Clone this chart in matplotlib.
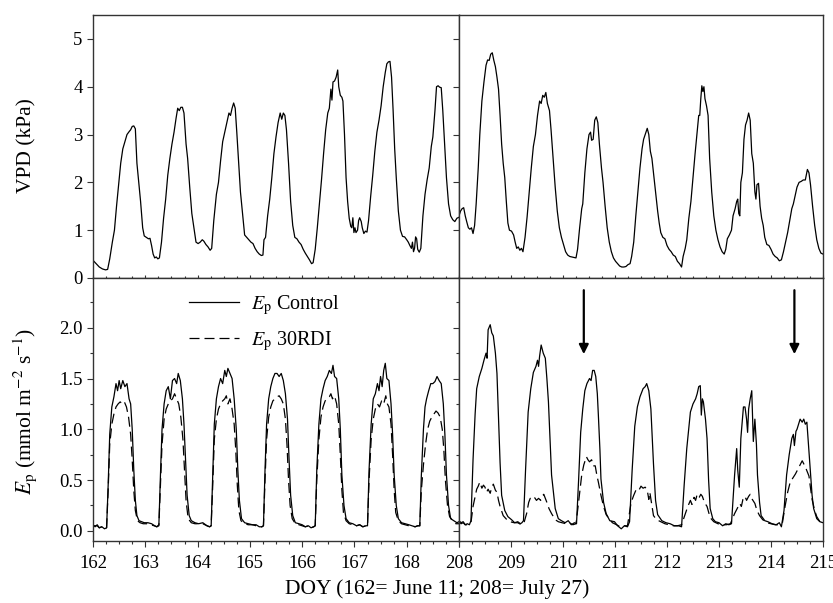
import numpy as np
import matplotlib
matplotlib.use('Agg')
import matplotlib.pyplot as plt
from matplotlib.ticker import MultipleLocator, FixedLocator, NullFormatter

plt.rcParams['font.family'] = ['Liberation Serif', 'DejaVu Serif']
plt.rcParams['mathtext.fontset'] = 'stix'

# VPD (kPa), DOY 162-169
vpd_a = np.array([
    (162.00, 0.37), (162.06, 0.30), (162.12, 0.23), (162.18, 0.19), (162.24, 0.17), (162.28, 0.18),
    (162.32, 0.40), (162.37, 0.75), (162.41, 1.00), (162.45, 1.50), (162.49, 1.95), (162.53, 2.40),
    (162.57, 2.70), (162.61, 2.85), (162.65, 3.00), (162.69, 3.06), (162.72, 3.10), (162.75, 3.17),
    (162.78, 3.18), (162.81, 3.12), (162.84, 2.40), (162.87, 2.05), (162.91, 1.60), (162.95, 1.05),
    (162.98, 0.88), (163.02, 0.85), (163.06, 0.82), (163.09, 0.83), (163.12, 0.68), (163.15, 0.50),
    (163.18, 0.42), (163.21, 0.44), (163.24, 0.40), (163.27, 0.42), (163.31, 0.75), (163.35, 1.25),
    (163.39, 1.65), (163.43, 2.15), (163.47, 2.50), (163.51, 2.80), (163.55, 3.05), (163.59, 3.35),
    (163.62, 3.55), (163.65, 3.50), (163.68, 3.57), (163.71, 3.57), (163.74, 3.45), (163.78, 2.80),
    (163.81, 2.50), (163.85, 1.90), (163.89, 1.35), (163.93, 1.05), (163.97, 0.75), (164.01, 0.72),
    (164.05, 0.75), (164.09, 0.80), (164.12, 0.77), (164.16, 0.70), (164.20, 0.65), (164.24, 0.58),
    (164.27, 0.62), (164.31, 1.20), (164.36, 1.75), (164.40, 2.00), (164.44, 2.45), (164.48, 2.85),
    (164.52, 3.05), (164.56, 3.25), (164.60, 3.45), (164.63, 3.40), (164.66, 3.55), (164.69, 3.66),
    (164.72, 3.55), (164.75, 3.05), (164.78, 2.50), (164.82, 1.80), (164.86, 1.35), (164.90, 0.90),
    (164.94, 0.85), (164.98, 0.80), (165.02, 0.75), (165.06, 0.72), (165.10, 0.62), (165.14, 0.55),
    (165.18, 0.50), (165.22, 0.47), (165.25, 0.48), (165.27, 0.80), (165.30, 0.85), (165.34, 1.30),
    (165.38, 1.65), (165.42, 2.10), (165.46, 2.60), (165.50, 2.95), (165.54, 3.25), (165.58, 3.45),
    (165.61, 3.32), (165.64, 3.45), (165.67, 3.40), (165.70, 3.10), (165.74, 2.40), (165.78, 1.60),
    (165.82, 1.10), (165.86, 0.85), (165.90, 0.82), (165.94, 0.75), (165.98, 0.70), (166.02, 0.60),
    (166.06, 0.52), (166.10, 0.45), (166.14, 0.38), (166.18, 0.30), (166.21, 0.32), (166.25, 0.60),
    (166.29, 1.05), (166.33, 1.55), (166.37, 2.05), (166.41, 2.60), (166.45, 3.10), (166.49, 3.45),
    (166.52, 3.55), (166.55, 3.95), (166.57, 3.72), (166.59, 4.10), (166.62, 4.12), (166.65, 4.20),
    (166.68, 4.35), (166.70, 4.00), (166.73, 3.82), (166.76, 3.78), (166.78, 3.70), (166.81, 3.00),
    (166.84, 2.10), (166.87, 1.60), (166.90, 1.25), (166.93, 1.08), (166.95, 1.05), (166.97, 1.26),
    (166.99, 0.95), (167.01, 1.05), (167.03, 0.95), (167.06, 1.00), (167.08, 1.20), (167.10, 1.26),
    (167.13, 1.18), (167.15, 1.05), (167.18, 0.93), (167.21, 0.98), (167.24, 0.96), (167.27, 1.20),
    (167.31, 1.70), (167.35, 2.15), (167.39, 2.65), (167.43, 3.05), (167.47, 3.30), (167.51, 3.60),
    (167.55, 4.00), (167.59, 4.30), (167.62, 4.48), (167.65, 4.52), (167.68, 4.53), (167.71, 4.20),
    (167.74, 3.50), (167.77, 2.70), (167.80, 2.10), (167.84, 1.40), (167.88, 1.00), (167.92, 0.87),
    (167.96, 0.86), (168.00, 0.80), (168.03, 0.75), (168.06, 0.68), (168.09, 0.62), (168.11, 0.75),
    (168.13, 0.55), (168.15, 0.62), (168.17, 0.86), (168.19, 0.82), (168.21, 0.60), (168.24, 0.54),
    (168.27, 0.62), (168.31, 1.30), (168.35, 1.75), (168.39, 2.05), (168.43, 2.30), (168.47, 2.75),
    (168.50, 2.95), (168.54, 3.50), (168.57, 4.00), (168.60, 4.02), (168.63, 3.99), (168.66, 3.98),
    (168.69, 3.50), (168.72, 2.90), (168.76, 2.10), (168.80, 1.55), (168.84, 1.30), (168.88, 1.22),
    (168.92, 1.18), (168.96, 1.25), (169.00, 1.27)])

# VPD (kPa), DOY 208-215
vpd_b = np.array([
    (208.00, 1.30), (208.03, 1.40), (208.06, 1.45), (208.09, 1.47), (208.12, 1.30), (208.15, 1.17),
    (208.18, 1.05), (208.21, 1.02), (208.24, 1.05), (208.27, 0.93), (208.30, 1.10), (208.33, 1.55),
    (208.37, 2.30), (208.40, 3.00), (208.44, 3.70), (208.48, 4.10), (208.52, 4.45), (208.55, 4.56),
    (208.58, 4.55), (208.61, 4.68), (208.64, 4.71), (208.67, 4.55), (208.70, 4.42), (208.73, 4.20),
    (208.76, 3.95), (208.79, 3.40), (208.82, 2.80), (208.85, 2.40), (208.88, 2.10), (208.91, 1.60),
    (208.94, 1.15), (208.97, 1.00), (209.01, 0.98), (209.05, 0.90), (209.08, 0.75), (209.11, 0.62),
    (209.14, 0.65), (209.17, 0.58), (209.20, 0.62), (209.23, 0.55), (209.27, 0.85), (209.31, 1.28),
    (209.35, 1.80), (209.39, 2.30), (209.43, 2.75), (209.47, 3.00), (209.51, 3.40), (209.55, 3.70),
    (209.58, 3.65), (209.61, 3.82), (209.64, 3.78), (209.67, 3.88), (209.70, 3.65), (209.74, 3.50),
    (209.77, 3.10), (209.81, 2.50), (209.85, 1.90), (209.89, 1.40), (209.93, 1.05), (209.97, 0.85),
    (210.01, 0.70), (210.05, 0.55), (210.09, 0.48), (210.13, 0.45), (210.17, 0.44), (210.21, 0.43),
    (210.25, 0.42), (210.28, 0.60), (210.32, 1.05), (210.36, 1.45), (210.38, 1.55), (210.42, 2.20),
    (210.46, 2.70), (210.50, 3.00), (210.53, 3.05), (210.55, 2.88), (210.58, 2.90), (210.61, 3.30),
    (210.64, 3.37), (210.67, 3.25), (210.70, 2.80), (210.74, 2.30), (210.77, 2.00), (210.81, 1.50),
    (210.85, 1.05), (210.89, 0.75), (210.93, 0.55), (210.97, 0.42), (211.01, 0.35), (211.05, 0.30),
    (211.09, 0.25), (211.13, 0.23), (211.17, 0.23), (211.21, 0.24), (211.25, 0.28), (211.29, 0.30),
    (211.32, 0.45), (211.36, 0.75), (211.40, 1.30), (211.44, 1.80), (211.48, 2.30), (211.52, 2.70),
    (211.55, 2.90), (211.58, 3.00), (211.62, 3.13), (211.65, 3.00), (211.68, 2.65), (211.71, 2.50),
    (211.75, 2.10), (211.79, 1.70), (211.82, 1.40), (211.85, 1.15), (211.88, 0.95), (211.92, 0.85),
    (211.96, 0.82), (212.00, 0.68), (212.04, 0.60), (212.08, 0.55), (212.12, 0.48), (212.16, 0.45),
    (212.20, 0.35), (212.24, 0.30), (212.28, 0.23), (212.31, 0.45), (212.35, 0.62), (212.38, 0.80),
    (212.42, 1.25), (212.46, 1.60), (212.50, 2.10), (212.54, 2.60), (212.58, 3.05), (212.61, 3.40),
    (212.63, 3.40), (212.65, 3.75), (212.67, 4.02), (212.69, 3.90), (212.71, 4.00), (212.73, 3.75),
    (212.76, 3.60), (212.79, 3.40), (212.82, 2.50), (212.86, 1.80), (212.90, 1.30), (212.94, 1.00),
    (212.98, 0.80), (213.02, 0.65), (213.06, 0.55), (213.10, 0.50), (213.13, 0.60), (213.16, 0.82),
    (213.20, 0.90), (213.24, 1.00), (213.27, 1.30), (213.31, 1.45), (213.34, 1.60), (213.36, 1.65),
    (213.38, 1.35), (213.40, 1.30), (213.42, 2.00), (213.45, 2.20), (213.48, 2.90), (213.51, 3.20),
    (213.54, 3.30), (213.57, 3.45), (213.60, 3.30), (213.63, 2.60), (213.66, 2.40), (213.69, 1.80),
    (213.71, 1.65), (213.73, 1.95), (213.76, 1.98), (213.79, 1.50), (213.82, 1.25), (213.85, 1.10),
    (213.88, 0.85), (213.92, 0.70), (213.96, 0.68), (214.00, 0.60), (214.04, 0.50), (214.08, 0.45),
    (214.12, 0.42), (214.16, 0.36), (214.20, 0.38), (214.24, 0.55), (214.28, 0.75), (214.32, 0.95),
    (214.36, 1.20), (214.40, 1.45), (214.43, 1.55), (214.46, 1.70), (214.50, 1.90), (214.54, 2.00),
    (214.58, 2.02), (214.62, 2.05), (214.66, 2.05), (214.70, 2.27), (214.73, 2.20), (214.76, 1.95),
    (214.80, 1.50), (214.84, 1.10), (214.88, 0.80), (214.92, 0.62), (214.96, 0.52), (215.00, 0.50)])

# Ep control (mmol m-2 s-1), DOY 162-169
ep_ctrl_a = np.array([
    (162.00, 0.06), (162.04, 0.04), (162.08, 0.06), (162.12, 0.03), (162.17, 0.04), (162.22, 0.02),
    (162.26, 0.03), (162.29, 0.45), (162.32, 0.95), (162.36, 1.22), (162.40, 1.32), (162.44, 1.45),
    (162.47, 1.38), (162.50, 1.48), (162.53, 1.40), (162.57, 1.48), (162.61, 1.42), (162.65, 1.45),
    (162.69, 1.30), (162.72, 1.25), (162.75, 1.00), (162.78, 0.60), (162.81, 0.30), (162.84, 0.15),
    (162.88, 0.10), (162.93, 0.09), (162.98, 0.08), (163.05, 0.08), (163.12, 0.07), (163.18, 0.05),
    (163.22, 0.04), (163.26, 0.06), (163.29, 0.55), (163.32, 1.00), (163.36, 1.25), (163.40, 1.38),
    (163.44, 1.42), (163.48, 1.30), (163.52, 1.48), (163.56, 1.50), (163.60, 1.45), (163.63, 1.55),
    (163.67, 1.48), (163.71, 1.30), (163.74, 1.05), (163.77, 0.70), (163.80, 0.35), (163.84, 0.15),
    (163.88, 0.10), (163.95, 0.08), (164.02, 0.07), (164.10, 0.08), (164.18, 0.05), (164.23, 0.04),
    (164.26, 0.05), (164.29, 0.55), (164.32, 1.05), (164.36, 1.30), (164.40, 1.42), (164.44, 1.50),
    (164.48, 1.45), (164.52, 1.58), (164.55, 1.52), (164.58, 1.60), (164.62, 1.55), (164.66, 1.50),
    (164.70, 1.30), (164.74, 1.00), (164.77, 0.60), (164.80, 0.30), (164.84, 0.12), (164.90, 0.08),
    (164.97, 0.07), (165.05, 0.06), (165.12, 0.06), (165.18, 0.04), (165.23, 0.04), (165.26, 0.05),
    (165.29, 0.60), (165.32, 1.05), (165.36, 1.30), (165.40, 1.42), (165.44, 1.50), (165.48, 1.55),
    (165.52, 1.55), (165.56, 1.52), (165.60, 1.55), (165.64, 1.48), (165.68, 1.35), (165.72, 1.10),
    (165.75, 0.70), (165.78, 0.35), (165.82, 0.15), (165.87, 0.08), (165.94, 0.07), (166.00, 0.06),
    (166.06, 0.04), (166.12, 0.05), (166.17, 0.03), (166.22, 0.04), (166.25, 0.05), (166.28, 0.60),
    (166.32, 1.05), (166.36, 1.30), (166.40, 1.40), (166.44, 1.48), (166.48, 1.52), (166.52, 1.58),
    (166.56, 1.55), (166.59, 1.63), (166.62, 1.52), (166.66, 1.50), (166.70, 1.30), (166.73, 1.00),
    (166.76, 0.55), (166.80, 0.25), (166.84, 0.12), (166.90, 0.08), (166.97, 0.07), (167.04, 0.05),
    (167.10, 0.06), (167.16, 0.04), (167.22, 0.05), (167.25, 0.05), (167.28, 0.60), (167.32, 1.05),
    (167.36, 1.30), (167.40, 1.35), (167.44, 1.45), (167.47, 1.38), (167.50, 1.52), (167.53, 1.42),
    (167.56, 1.58), (167.59, 1.65), (167.62, 1.50), (167.66, 1.48), (167.70, 1.25), (167.73, 0.95),
    (167.76, 0.55), (167.80, 0.25), (167.84, 0.12), (167.90, 0.08), (167.97, 0.07), (168.04, 0.06),
    (168.10, 0.05), (168.16, 0.04), (168.21, 0.05), (168.25, 0.05), (168.28, 0.55), (168.32, 1.00),
    (168.35, 1.22), (168.38, 1.30), (168.42, 1.38), (168.46, 1.45), (168.50, 1.45), (168.54, 1.47),
    (168.58, 1.52), (168.62, 1.48), (168.66, 1.45), (168.70, 1.25), (168.73, 0.95), (168.76, 0.55),
    (168.80, 0.25), (168.84, 0.12), (168.90, 0.10), (168.96, 0.08), (169.00, 0.09)])

# Ep 30RDI, DOY 162-169
ep_rdi_a = np.array([
    (162.00, 0.05), (162.04, 0.05), (162.08, 0.05), (162.12, 0.03), (162.17, 0.04), (162.22, 0.02),
    (162.26, 0.03), (162.29, 0.40), (162.32, 0.85), (162.36, 1.05), (162.40, 1.15), (162.44, 1.22),
    (162.48, 1.25), (162.52, 1.27), (162.56, 1.25), (162.60, 1.27), (162.64, 1.22), (162.68, 1.12),
    (162.72, 0.95), (162.75, 0.70), (162.78, 0.40), (162.81, 0.20), (162.85, 0.10), (162.90, 0.08),
    (162.96, 0.07), (163.03, 0.07), (163.10, 0.06), (163.17, 0.05), (163.22, 0.04), (163.26, 0.05),
    (163.29, 0.45), (163.32, 0.85), (163.36, 1.10), (163.40, 1.20), (163.44, 1.25), (163.48, 1.28),
    (163.52, 1.30), (163.56, 1.35), (163.60, 1.30), (163.64, 1.25), (163.68, 1.12), (163.72, 0.90),
    (163.75, 0.60), (163.78, 0.30), (163.82, 0.12), (163.88, 0.08), (163.95, 0.07), (164.02, 0.07),
    (164.10, 0.07), (164.18, 0.05), (164.23, 0.04), (164.26, 0.05), (164.29, 0.45), (164.32, 0.90),
    (164.36, 1.10), (164.40, 1.20), (164.44, 1.25), (164.48, 1.28), (164.52, 1.30), (164.55, 1.33),
    (164.58, 1.25), (164.62, 1.30), (164.66, 1.20), (164.70, 1.05), (164.73, 0.80), (164.76, 0.45),
    (164.79, 0.20), (164.83, 0.10), (164.90, 0.07), (164.97, 0.06), (165.05, 0.06), (165.12, 0.05),
    (165.18, 0.04), (165.23, 0.04), (165.26, 0.05), (165.29, 0.50), (165.32, 0.90), (165.36, 1.12),
    (165.40, 1.22), (165.44, 1.28), (165.48, 1.30), (165.52, 1.32), (165.56, 1.33), (165.60, 1.30),
    (165.64, 1.25), (165.68, 1.10), (165.71, 0.85), (165.74, 0.50), (165.77, 0.25), (165.81, 0.12),
    (165.87, 0.07), (165.94, 0.06), (166.00, 0.05), (166.06, 0.04), (166.12, 0.05), (166.17, 0.03),
    (166.22, 0.04), (166.25, 0.05), (166.28, 0.50), (166.32, 0.90), (166.36, 1.12), (166.40, 1.22),
    (166.44, 1.28), (166.48, 1.30), (166.52, 1.32), (166.55, 1.35), (166.58, 1.30), (166.62, 1.33),
    (166.66, 1.25), (166.70, 1.05), (166.73, 0.75), (166.76, 0.40), (166.79, 0.18), (166.84, 0.10),
    (166.90, 0.07), (166.97, 0.06), (167.04, 0.05), (167.10, 0.06), (167.16, 0.04), (167.22, 0.05),
    (167.25, 0.05), (167.28, 0.50), (167.32, 0.90), (167.36, 1.10), (167.40, 1.20), (167.44, 1.25),
    (167.48, 1.22), (167.52, 1.28), (167.56, 1.25), (167.60, 1.33), (167.63, 1.25), (167.66, 1.22),
    (167.70, 1.05), (167.73, 0.75), (167.76, 0.40), (167.79, 0.18), (167.84, 0.10), (167.90, 0.07),
    (167.97, 0.06), (168.04, 0.05), (168.10, 0.05), (168.16, 0.04), (168.21, 0.05), (168.25, 0.05),
    (168.28, 0.40), (168.32, 0.65), (168.36, 0.85), (168.40, 1.00), (168.44, 1.08), (168.48, 1.12),
    (168.52, 1.15), (168.56, 1.18), (168.60, 1.16), (168.64, 1.12), (168.68, 1.00), (168.71, 0.80),
    (168.74, 0.50), (168.78, 0.25), (168.82, 0.14), (168.88, 0.10), (168.94, 0.07), (169.00, 0.07)])

# Ep control, DOY 208-215
ep_ctrl_b = np.array([
    (208.00, 0.10), (208.04, 0.08), (208.08, 0.09), (208.12, 0.06), (208.16, 0.07), (208.20, 0.06),
    (208.23, 0.10), (208.27, 0.70), (208.31, 1.15), (208.34, 1.40), (208.39, 1.52), (208.44, 1.60),
    (208.48, 1.68), (208.52, 1.75), (208.54, 1.70), (208.56, 1.98), (208.60, 2.03), (208.63, 1.95),
    (208.66, 1.92), (208.70, 1.75), (208.73, 1.55), (208.76, 1.10), (208.79, 0.67), (208.82, 0.35),
    (208.88, 0.20), (208.94, 0.14), (209.01, 0.11), (209.07, 0.08), (209.13, 0.09), (209.18, 0.07),
    (209.21, 0.08), (209.24, 0.10), (209.28, 0.60), (209.33, 1.17), (209.38, 1.40), (209.43, 1.56),
    (209.48, 1.62), (209.51, 1.68), (209.53, 1.62), (209.55, 1.72), (209.58, 1.83), (209.62, 1.75),
    (209.66, 1.70), (209.69, 1.50), (209.72, 1.27), (209.75, 0.90), (209.78, 0.55), (209.85, 0.22),
    (209.91, 0.12), (209.97, 0.10), (210.04, 0.08), (210.10, 0.10), (210.16, 0.06), (210.22, 0.08),
    (210.26, 0.07), (210.30, 0.50), (210.34, 0.97), (210.38, 1.20), (210.42, 1.38), (210.46, 1.45),
    (210.51, 1.50), (210.54, 1.48), (210.57, 1.58), (210.60, 1.58), (210.63, 1.52), (210.66, 1.35),
    (210.68, 1.14), (210.71, 0.80), (210.73, 0.51), (210.78, 0.28), (210.83, 0.17), (210.90, 0.10),
    (210.99, 0.09), (211.05, 0.05), (211.12, 0.02), (211.18, 0.05), (211.24, 0.04), (211.28, 0.09),
    (211.33, 0.60), (211.38, 1.03), (211.43, 1.22), (211.48, 1.32), (211.54, 1.40), (211.58, 1.42),
    (211.61, 1.45), (211.65, 1.38), (211.69, 1.20), (211.74, 0.66), (211.78, 0.30), (211.82, 0.16),
    (211.90, 0.10), (211.98, 0.08), (212.06, 0.07), (212.14, 0.05), (212.22, 0.05), (212.28, 0.04),
    (212.33, 0.45), (212.38, 0.81), (212.45, 1.17), (212.50, 1.25), (212.55, 1.30), (212.58, 1.35),
    (212.61, 1.42), (212.64, 1.43), (212.66, 1.14), (212.68, 1.30), (212.70, 1.27), (212.74, 1.10),
    (212.77, 0.91), (212.80, 0.50), (212.83, 0.22), (212.88, 0.12), (212.93, 0.09), (213.00, 0.08),
    (213.07, 0.05), (213.13, 0.07), (213.19, 0.06), (213.24, 0.07), (213.30, 0.55), (213.34, 0.81),
    (213.36, 0.60), (213.39, 0.43), (213.42, 0.91), (213.45, 1.10), (213.47, 1.22), (213.50, 1.22),
    (213.53, 1.10), (213.55, 0.97), (213.57, 1.20), (213.60, 1.30), (213.63, 1.38), (213.66, 0.88),
    (213.69, 1.10), (213.72, 0.85), (213.74, 0.55), (213.78, 0.28), (213.81, 0.15), (213.88, 0.10),
    (213.94, 0.09), (214.02, 0.07), (214.10, 0.06), (214.16, 0.08), (214.20, 0.04), (214.25, 0.20),
    (214.30, 0.55), (214.35, 0.75), (214.40, 0.91), (214.43, 0.95), (214.45, 0.84), (214.48, 0.98),
    (214.50, 1.00), (214.53, 1.05), (214.56, 1.10), (214.60, 1.07), (214.63, 1.10), (214.66, 1.05),
    (214.69, 1.07), (214.72, 0.85), (214.76, 0.55), (214.79, 0.35), (214.82, 0.22), (214.88, 0.12),
    (214.94, 0.09), (215.00, 0.08)])

# Ep 30RDI, DOY 208-215
ep_rdi_b = np.array([
    (208.00, 0.09), (208.04, 0.07), (208.08, 0.08), (208.12, 0.06), (208.16, 0.06), (208.20, 0.07),
    (208.23, 0.08), (208.27, 0.24), (208.31, 0.34), (208.34, 0.41), (208.37, 0.44), (208.40, 0.48),
    (208.44, 0.42), (208.47, 0.45), (208.50, 0.43), (208.53, 0.38), (208.56, 0.41), (208.60, 0.37),
    (208.63, 0.43), (208.66, 0.46), (208.70, 0.40), (208.73, 0.38), (208.76, 0.30), (208.79, 0.24),
    (208.85, 0.15), (208.92, 0.11), (208.98, 0.09), (209.06, 0.08), (209.13, 0.08), (209.20, 0.06),
    (209.25, 0.08), (209.30, 0.17), (209.34, 0.28), (209.37, 0.32), (209.41, 0.31), (209.45, 0.33),
    (209.49, 0.30), (209.53, 0.32), (209.57, 0.30), (209.60, 0.34), (209.63, 0.36), (209.66, 0.32),
    (209.69, 0.28), (209.73, 0.22), (209.78, 0.17), (209.85, 0.11), (209.91, 0.09), (209.98, 0.08),
    (210.06, 0.07), (210.12, 0.08), (210.19, 0.06), (210.25, 0.07), (210.29, 0.24), (210.33, 0.42),
    (210.36, 0.55), (210.40, 0.65), (210.45, 0.73), (210.48, 0.70), (210.51, 0.68), (210.55, 0.70),
    (210.58, 0.64), (210.62, 0.64), (210.65, 0.55), (210.68, 0.48), (210.73, 0.35), (210.78, 0.24),
    (210.83, 0.16), (210.87, 0.13), (210.95, 0.08), (211.03, 0.06), (211.10, 0.04), (211.17, 0.05),
    (211.24, 0.05), (211.31, 0.28), (211.36, 0.35), (211.41, 0.41), (211.46, 0.40), (211.50, 0.44),
    (211.54, 0.42), (211.58, 0.43), (211.62, 0.40), (211.65, 0.31), (211.67, 0.38), (211.71, 0.25),
    (211.74, 0.15), (211.80, 0.11), (211.88, 0.09), (211.96, 0.07), (212.04, 0.06), (212.12, 0.05),
    (212.20, 0.05), (212.28, 0.06), (212.34, 0.15), (212.40, 0.24), (212.45, 0.30), (212.48, 0.26),
    (212.52, 0.33), (212.55, 0.30), (212.58, 0.36), (212.62, 0.33), (212.65, 0.36), (212.68, 0.34),
    (212.72, 0.28), (212.77, 0.24), (212.83, 0.13), (212.90, 0.09), (212.98, 0.07), (213.06, 0.06),
    (213.14, 0.06), (213.22, 0.07), (213.30, 0.17), (213.35, 0.22), (213.40, 0.27), (213.43, 0.24),
    (213.46, 0.31), (213.50, 0.34), (213.53, 0.30), (213.57, 0.34), (213.60, 0.36), (213.64, 0.31),
    (213.69, 0.27), (213.73, 0.20), (213.78, 0.15), (213.84, 0.11), (213.92, 0.08), (214.00, 0.07),
    (214.08, 0.06), (214.15, 0.06), (214.22, 0.08), (214.27, 0.24), (214.32, 0.38), (214.37, 0.48),
    (214.42, 0.52), (214.47, 0.56), (214.51, 0.60), (214.55, 0.64), (214.60, 0.69), (214.63, 0.66),
    (214.66, 0.63), (214.70, 0.58), (214.73, 0.54), (214.76, 0.42), (214.79, 0.31), (214.84, 0.20),
    (214.88, 0.14), (214.94, 0.09), (215.00, 0.07)])

arrow_doy = [210.40, 214.45]

fig = plt.figure(figsize=(8.33, 6.03), dpi=100)

x0, xm, x1 = 93 / 833, 459 / 833, 823 / 833
y_top, y_mid, y_bot = 1 - 15 / 603, 1 - 278 / 603, 1 - 541 / 603

ax1 = fig.add_axes([x0, y_mid, xm - x0, y_top - y_mid])
ax2 = fig.add_axes([xm, y_mid, x1 - xm, y_top - y_mid])
ax3 = fig.add_axes([x0, y_bot, xm - x0, y_mid - y_bot])
ax4 = fig.add_axes([xm, y_bot, x1 - xm, y_mid - y_bot])

lw = 0.9
dash = (0, (8, 4))
ax1.plot(vpd_a[:, 0], vpd_a[:, 1], color='k', lw=lw)
ax2.plot(vpd_b[:, 0], vpd_b[:, 1], color='k', lw=lw)

ax3.plot(ep_ctrl_a[:, 0], ep_ctrl_a[:, 1], color='k', lw=lw,
         label=r'$E_\mathrm{p}$ Control')
ax3.plot(ep_rdi_a[:, 0], ep_rdi_a[:, 1], color='k', lw=lw, ls=dash,
         label=r'$E_\mathrm{p}$ 30RDI')
ax4.plot(ep_ctrl_b[:, 0], ep_ctrl_b[:, 1], color='k', lw=lw)
ax4.plot(ep_rdi_b[:, 0], ep_rdi_b[:, 1], color='k', lw=lw, ls=dash)

for d in arrow_doy:
    ax4.annotate('', xy=(d, 1.74), xytext=(d, 2.37),
                 arrowprops=dict(arrowstyle='-|>', color='k', lw=1.6,
                                 mutation_scale=14, shrinkA=0, shrinkB=0))

tick_fs = 13.5
for ax in (ax1, ax2, ax3, ax4):
    for s in ax.spines.values():
        s.set_color('#333333')
        s.set_linewidth(1.0)
    ax.tick_params(which='both', direction='out', colors='#333333',
                   labelcolor='k', labelsize=tick_fs, width=0.8)
    ax.tick_params(which='major', length=4)
    ax.tick_params(which='minor', length=2.5)
    ax.tick_params(axis='x', pad=6)

ax1.set_xlim(162, 169)
ax2.set_xlim(208, 215)
ax3.set_xlim(162, 169)
ax4.set_xlim(208, 215)

for ax in (ax1, ax2):
    ax.set_ylim(0, 5.5)
    ax.yaxis.set_major_locator(MultipleLocator(1))
    ax.xaxis.set_major_locator(MultipleLocator(1))
    ax.xaxis.set_minor_locator(MultipleLocator(0.25))
    ax.tick_params(axis='x', which='both', labelbottom=False, direction='in')
    ax.tick_params(axis='x', which='major', length=2.5)
    ax.tick_params(axis='x', which='minor', length=1.5)

for ax in (ax3, ax4):
    ax.set_ylim(-0.1, 2.49)
    ax.yaxis.set_major_locator(MultipleLocator(0.5))
    ax.yaxis.set_minor_locator(MultipleLocator(0.25))
    ax.xaxis.set_minor_locator(MultipleLocator(0.25))

ax3.xaxis.set_major_locator(FixedLocator([162, 163, 164, 165, 166, 167, 168, 169]))
ax3.set_xticklabels(['162', '163', '164', '165', '166', '167', '168', ''])
ax4.xaxis.set_major_locator(MultipleLocator(1))
ax3.yaxis.set_major_formatter(plt.FormatStrFormatter('%.1f'))

ax2.yaxis.set_major_formatter(NullFormatter())
ax4.yaxis.set_major_formatter(NullFormatter())

ax3.legend(loc='upper left', bbox_to_anchor=(0.24, 0.975), frameon=False,
           fontsize=14.5, handlelength=2.5, handletextpad=0.6,
           labelspacing=0.6, borderaxespad=0)

fig.text(27 / 833, 1 - 146 / 603, 'VPD (kPa)', rotation=90, ha='center',
         va='center', fontsize=15.5)
fig.text(25 / 833, 1 - 412 / 603, r'$E_\mathrm{p}$ (mmol m$^{-2}$ s$^{-1}$)',
         rotation=90, ha='center', va='center', fontsize=15.5)
fig.text(437 / 833, 1 - 589 / 603, 'DOY (162= June 11; 208= July 27)',
         ha='center', va='center', fontsize=15.5)

fig.savefig('out.png', dpi=100)
